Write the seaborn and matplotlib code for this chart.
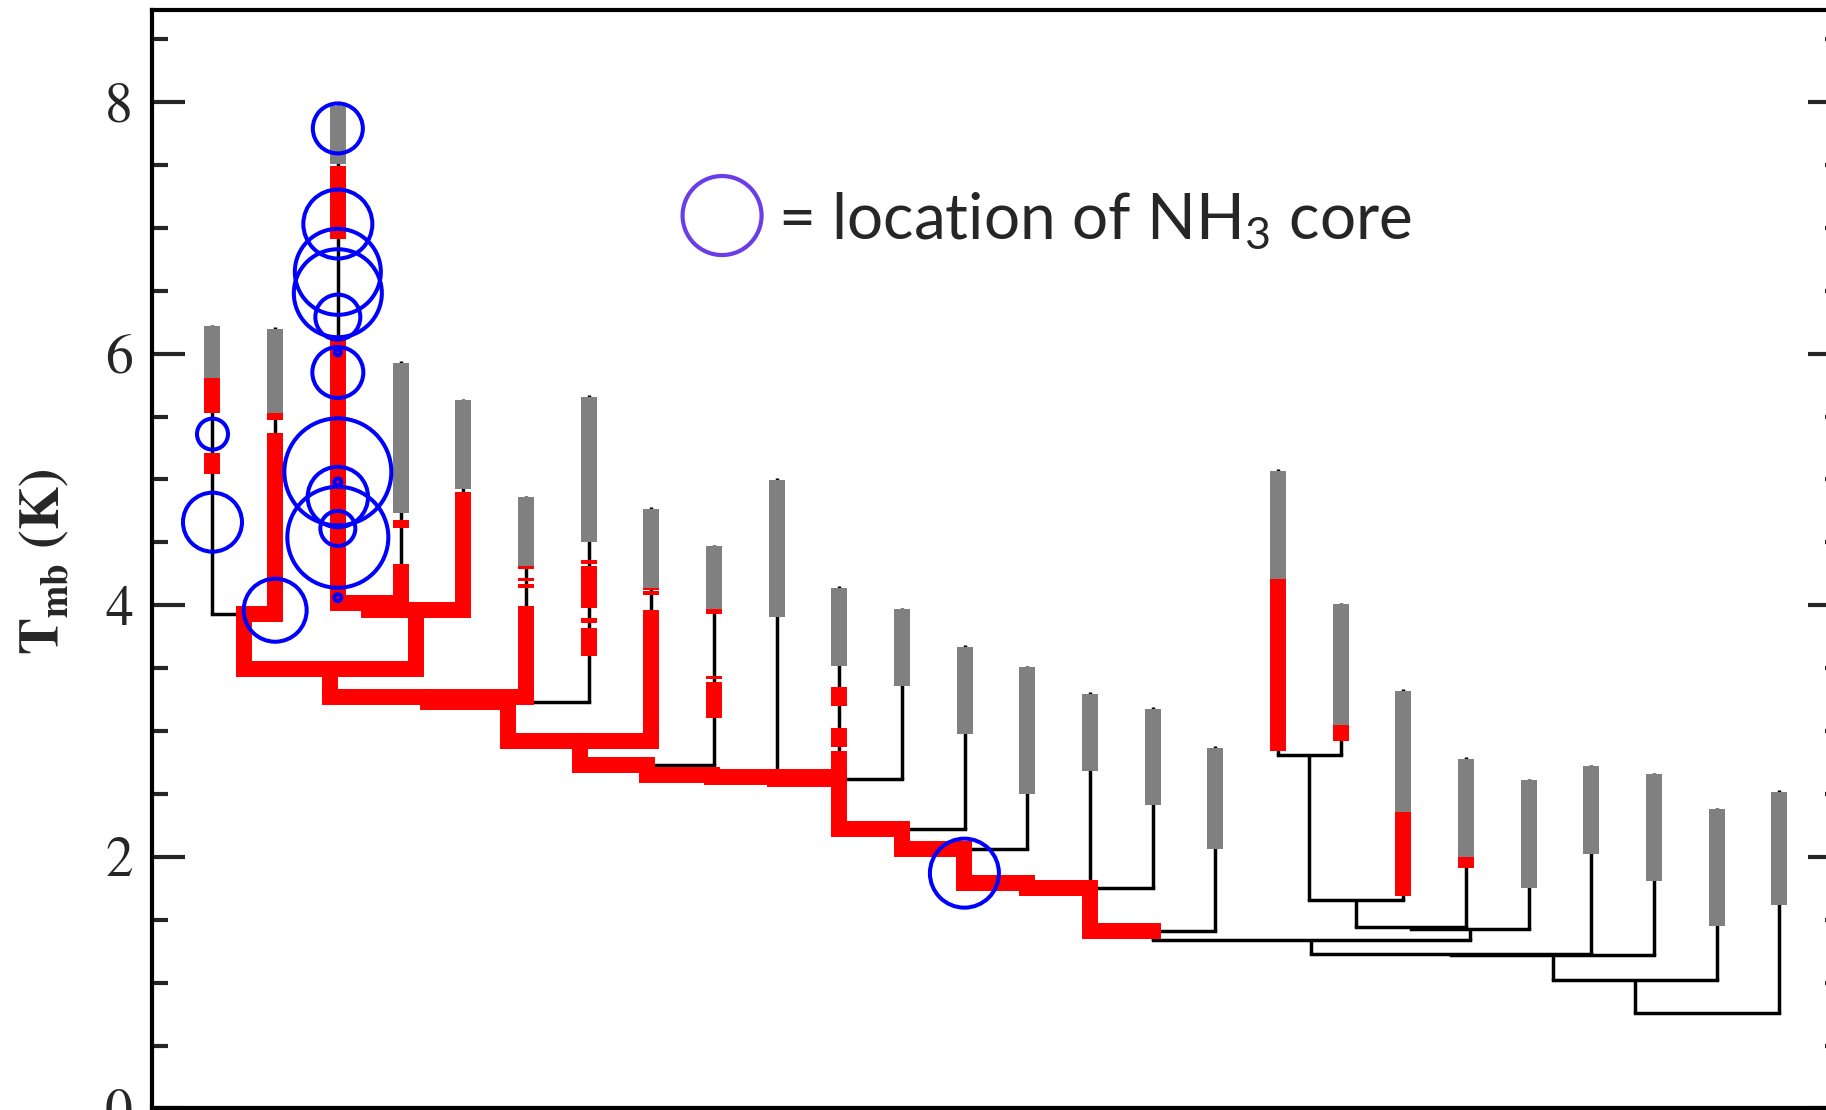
import matplotlib
matplotlib.use('Agg')
import matplotlib.pyplot as plt
from matplotlib.ticker import MultipleLocator
import seaborn as sns
import pandas as pd
import numpy as np

# ---------------- data ----------------
# leaves (left to right): peak T_mb and bottom of the grey "leaf" part
leaf_peak = [6.23, 6.21, 7.98, 5.94, 5.64, 4.87, 5.67, 4.78, 4.48, 5.01, 4.15, 3.98, 3.68,
             3.52, 3.31, 3.19, 2.88, 5.08, 4.02, 3.33, 2.79, 2.62, 2.73, 2.67, 2.39, 2.53]
leaf_gray_bottom = [5.81, 5.53, 7.51, 4.73, 4.92, 4.31, 4.50, 4.14, 3.97, 3.91, 3.52, 3.36, 2.98,
                    2.50, 2.68, 2.41, 2.06, 4.21, 3.05, 2.36, 2.00, 1.755, 2.02, 1.81, 1.45, 1.62]

# branches: name, children, merge level
branch_names = ['N01', 'N23', 'N234', 'N0_4', 'N0_5', 'N0_6', 'N0_7', 'N0_8', 'M1', 'M2', 'M3',
                'Tb', 'Tc', 'Td', 'Te', 'Tf', 'N17_18', 'N17_19', 'A', 'B', 'C', 'D', 'D2', 'F', 'G']
branch_children = [(0, 1), (2, 3), ('N23', 4), ('N01', 'N234'), ('N0_4', 5), ('N0_5', 6),
                   ('N0_6', 7), ('N0_7', 8), ('N0_8', 9), ('M1', 10), ('M2', 11), ('M3', 12),
                   ('Tb', 13), ('Tc', 14), ('Td', 15), ('Te', 16), (17, 18), ('N17_18', 19),
                   ('N17_19', 20), ('A', 21), ('Tf', 'B'), ('C', 22), ('D', 23), ('D2', 24), ('F', 25)]
branch_height = [3.93, 4.02, 3.96, 3.49, 3.27, 3.23, 2.92, 2.73, 2.65, 2.635, 2.62,
                 2.22, 2.06, 1.79, 1.75, 1.41, 2.81, 1.66, 1.44, 1.43, 1.34, 1.23, 1.22, 1.02, 0.76]

# red (self-gravitating) parts reaching down to the parent, with their upper end
red_link_struct = [1, 2, 3, 4, 'N23', 'N234', 'N01', 'N0_4', 5, 'N0_5', 'N0_6', 7, 'N0_7',
                   'N0_8', 'M1', 'M2', 10, 'M3', 'Tb', 'Tc', 'Td', 'Te']
red_link_top = [5.37, 6.13, 4.33, 4.90, None, None, None, None, 3.99, None, None, 3.96, None,
                None, None, None, 2.84, None, None, None, None, None]

# isolated red intervals along a structure
red_seg_struct = [0, 0, 1, 2, 3, 5, 5, 5, 6, 6, 6, 6, 7, 7, 8, 8, 8, 10, 10, 17, 18, 19, 20]
red_seg_lo = [5.53, 5.04, 5.47, 6.91, 4.61, 4.29, 4.19, 4.14, 4.33, 3.98, 3.86, 3.60, 4.12, 4.08,
              3.93, 3.41, 3.10, 3.20, 2.87, 2.84, 2.92, 1.69, 1.91]
red_seg_hi = [5.81, 5.21, 5.53, 7.49, 4.68, 4.31, 4.22, 4.17, 4.36, 4.31, 3.90, 3.82, 4.14, 4.11,
              3.97, 3.44, 3.39, 3.35, 3.02, 4.21, 3.05, 2.36, 2.00]

# NH3 cores: structure, level and circle radius (pixels)
core_struct = [0, 0, 1, 2, 2, 2, 2, 2, 2, 2, 2, 2, 2, 2, 2, 2, 'Tc']
core_level = [5.36, 4.66, 3.96, 7.79, 7.03, 6.65, 6.48, 6.29, 6.01, 5.85, 5.06, 4.98, 4.86,
              4.61, 4.54, 4.06, 1.87]
core_radius_px = [17, 31, 33, 26.5, 36, 44.5, 45.5, 24, 4.5, 27, 55, 5, 31.7, 19, 52, 5, 36]

y_major = [0, 2, 4, 6, 8]

# ---------------- tree layout ----------------
level = {i: v for i, v in enumerate(leaf_peak)}
xpos = {i: float(i) for i in range(len(leaf_peak))}
parent = {}
for name, kids, h in zip(branch_names, branch_children, branch_height):
    level[name] = h
    xpos[name] = float(np.mean([xpos[k] for k in kids]))
    for k in kids:
        parent[k] = name

# ---------------- figure ----------------
sns.set_style('ticks')
plt.rcParams['font.family'] = ['STIXGeneral', 'DejaVu Serif']

DPI = 100
W, H = 1826, 1110
fig = plt.figure(figsize=(W / DPI, H / DPI), dpi=DPI, facecolor='white')
ax = fig.add_axes([151.7 / W, 1.6 / H, 1689 / W, 8.73 * 125.8 / H])
ax.set_xlim(-0.97, 25.98)
ax.set_ylim(0, 8.73)

BLACK_LW = 2.5
BAR_LW = 11.5
GREY = '#808080'
RED = '#ff0000'

# black dendrogram
for s in level:
    if s in parent:
        ax.plot([xpos[s], xpos[s]], [level[parent[s]], level[s]], color='black',
                lw=BLACK_LW, solid_capstyle='butt', zorder=1)
for name, kids in zip(branch_names, branch_children):
    xs = [xpos[k] for k in kids]
    ax.plot([min(xs), max(xs)], [level[name], level[name]], color='black',
            lw=BLACK_LW, solid_capstyle='projecting', zorder=1)

# grey leaves
for i, (top, bot) in enumerate(zip(leaf_peak, leaf_gray_bottom)):
    ax.plot([xpos[i], xpos[i]], [bot, top - 0.012], color=GREY, lw=BAR_LW,
            solid_capstyle='butt', zorder=2)

# red parts
for s, top in zip(red_link_struct, red_link_top):
    t = level[s] if top is None else top
    p = parent[s]
    ax.plot([xpos[s], xpos[s]], [level[p], t], color=RED, lw=BAR_LW,
            solid_capstyle='butt', zorder=3)
    ax.plot([xpos[s], xpos[p]], [level[p], level[p]], color=RED, lw=BAR_LW,
            solid_capstyle='projecting', zorder=3)
for s, lo, hi in zip(red_seg_struct, red_seg_lo, red_seg_hi):
    ax.plot([xpos[s], xpos[s]], [lo, hi], color=RED, lw=BAR_LW,
            solid_capstyle='butt', zorder=3)

# NH3 cores
core_df = pd.DataFrame({
    'x': [xpos[s] for s in core_struct],
    'y': core_level,
    'area': [(2 * max(r - 1.5, 2.5) * 72 / DPI) ** 2 for r in core_radius_px],
})
sns.scatterplot(data=core_df, x='x', y='y', s=core_df['area'].values, facecolor='none',
                edgecolor='#0000ff', linewidth=2.9, ax=ax, zorder=4, legend=False)

# key
ax.scatter([0.3377], [0.813], s=(2 * 39.5 * 72 / DPI) ** 2, facecolor='none',
           edgecolor='#6a3de8', linewidth=3.0, transform=ax.transAxes, zorder=5, clip_on=False)
ax.text(0.3708, 0.7919, r'= location of NH$_\mathregular{3}$ core', transform=ax.transAxes,
        fontsize=46, family=['Lato', 'DejaVu Sans'], ha='left', va='baseline', zorder=5)

# axes styling
ax.set_xlabel('')
ax.set_ylabel('')
ax.set_yticks(y_major)
ax.yaxis.set_minor_locator(MultipleLocator(0.5))
ax.tick_params(axis='y', which='both', direction='in', left=True, right=True, width=3,
               labelsize=40, pad=13.5)
ax.tick_params(axis='y', which='major', length=24)
ax.tick_params(axis='y', which='minor', length=11.5)
ax.tick_params(axis='x', which='both', bottom=False, top=False, labelbottom=False)
for sp in ax.spines.values():
    sp.set_visible(True)
    sp.set_linewidth(3)
    sp.set_color('black')
for lab in ax.get_yticklabels():
    lab.set_family('STIXGeneral')

fig.text(45 / W, 1 - 562 / H, r'T$_\mathregular{mb}$ (K)', rotation=90, ha='center',
         va='center', fontsize=40, fontweight='bold', family='STIXGeneral')

fig.savefig('out.png', dpi=DPI, facecolor='white')
